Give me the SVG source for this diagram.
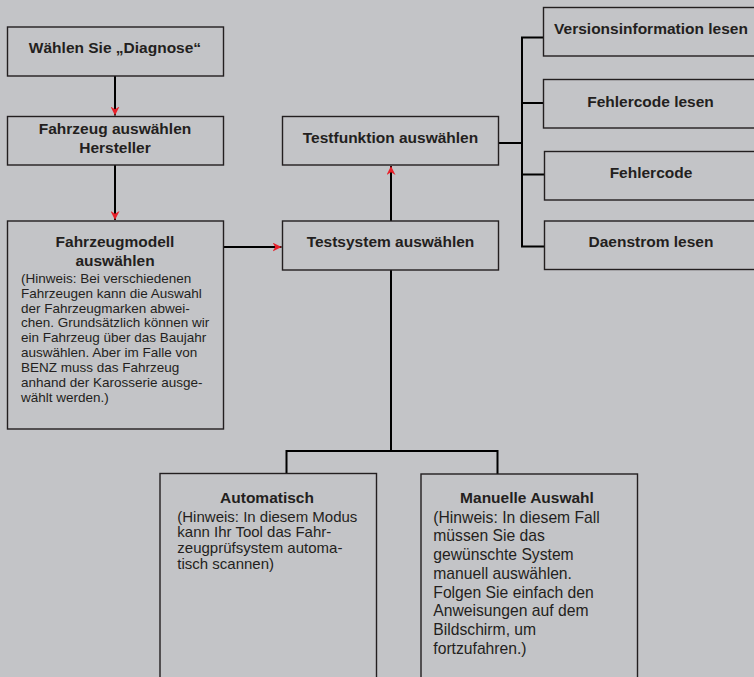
<svg xmlns="http://www.w3.org/2000/svg" width="754" height="677" viewBox="0 0 754 677">
<style>
.box{fill:#c3c4c7;stroke:#231f20;stroke-width:1.4}
.t{font-family:"Liberation Sans",Arial,sans-serif;font-weight:bold;font-size:15.5px;fill:#231f20;text-anchor:middle}
.n{font-family:"Liberation Sans",Arial,sans-serif;fill:#231f20}
.c{fill:none;stroke:#000;stroke-width:2}
</style>
<defs>
<marker id="ah" viewBox="0 0 10 10" refX="10" refY="5" markerWidth="9" markerHeight="9" markerUnits="userSpaceOnUse" orient="auto">
<path d="M0,0 L10,5 L0,10 L3,5 z" fill="#e8202a"/>
</marker>
</defs>
<rect width="754" height="677" fill="#c3c4c7"/>
<g id="connectors">
<path class="c" d="M115,76 V115.5" marker-end="url(#ah)"/>
<path class="c" d="M115,165 V220" marker-end="url(#ah)"/>
<path class="c" d="M224,247 H281.5" marker-end="url(#ah)"/>
<path class="c" d="M391,221 V166" marker-end="url(#ah)"/>
<path class="c" d="M391,270 V451 M286.5,473 V451 H497.5 V474"/>
<path class="c" d="M499,143 H522 M543.5,37.5 H522 V246.5 H544 M522,103 H543.5 M522,174.5 H544"/>
</g>
<g id="n1"><rect class="box" x="7.5" y="27" width="216" height="49"/><text class="t" x="115" y="52.5">Wählen Sie „Diagnose“</text></g>
<g id="n2"><rect class="box" x="7.5" y="116.5" width="216" height="48.5"/><text class="t" x="115" y="133.5">Fahrzeug auswählen</text><text class="t" x="115" y="152.7">Hersteller</text></g>
<g id="n3"><rect class="box" x="7.5" y="221" width="216" height="208"/>
<text class="t" x="115" y="247">Fahrzeugmodell</text><text class="t" x="115" y="266">auswählen</text>
<text class="n" font-size="13.5" x="21" y="282.7">(Hinweis: Bei verschiedenen</text>
<text class="n" font-size="13.5" x="21" y="297.6">Fahrzeugen kann die Auswahl</text>
<text class="n" font-size="13.5" x="21" y="312.5">der Fahrzeugmarken abwei-</text>
<text class="n" font-size="13.5" x="21" y="327.4">chen. Grundsätzlich können wir</text>
<text class="n" font-size="13.5" x="21" y="342.3">ein Fahrzeug über das Baujahr</text>
<text class="n" font-size="13.5" x="21" y="357.2">auswählen. Aber im Falle von</text>
<text class="n" font-size="13.5" x="21" y="372.1">BENZ muss das Fahrzeug</text>
<text class="n" font-size="13.5" x="21" y="387">anhand der Karosserie ausge-</text>
<text class="n" font-size="13.5" x="21" y="401.9">wählt werden.)</text>
</g>
<g id="n4"><rect class="box" x="282.5" y="116.5" width="216" height="48.5"/><text class="t" x="390.5" y="143.3">Testfunktion auswählen</text></g>
<g id="n5"><rect class="box" x="282.5" y="221" width="216" height="49"/><text class="t" x="390.5" y="246.7">Testsystem auswählen</text></g>
<g id="n6"><rect class="box" x="543.5" y="7.5" width="220" height="48.5"/><text class="t" x="651" y="34.3">Versionsinformation lesen</text></g>
<g id="n7"><rect class="box" x="543.5" y="79.5" width="220" height="48.5"/><text class="t" x="650.5" y="106.7">Fehlercode lesen</text></g>
<g id="n8"><rect class="box" x="544.5" y="151.5" width="220" height="48.5"/><text class="t" x="651" y="178.3">Fehlercode</text></g>
<g id="n9"><rect class="box" x="544.5" y="221" width="220" height="48.5"/><text class="t" x="651" y="247.3">Daenstrom lesen</text></g>
<g id="n10"><rect class="box" x="160" y="473.5" width="216.5" height="220"/>
<text class="t" x="267" y="502.7">Automatisch</text>
<text class="n" font-size="15" x="177.3" y="521.7">(Hinweis: In diesem Modus</text>
<text class="n" font-size="15" x="177.3" y="537.3">kann Ihr Tool das Fahr-</text>
<text class="n" font-size="15" x="177.3" y="552.9">zeugprüfsystem automa-</text>
<text class="n" font-size="15" x="177.3" y="568.5">tisch scannen)</text>
</g>
<g id="n11"><rect class="box" x="421" y="474" width="216.5" height="220"/>
<text class="t" x="527" y="503.3">Manuelle Auswahl</text>
<text class="n" font-size="15.7" x="433.3" y="522.7">(Hinweis: In diesem Fall</text>
<text class="n" font-size="15.7" x="433.3" y="541.4">müssen Sie das</text>
<text class="n" font-size="15.7" x="433.3" y="560.1">gewünschte System</text>
<text class="n" font-size="15.7" x="433.3" y="578.8">manuell auswählen.</text>
<text class="n" font-size="15.7" x="433.3" y="597.5">Folgen Sie einfach den</text>
<text class="n" font-size="15.7" x="433.3" y="616.2">Anweisungen auf dem</text>
<text class="n" font-size="15.7" x="433.3" y="634.9">Bildschirm, um</text>
<text class="n" font-size="15.7" x="433.3" y="653.6">fortzufahren.)</text>
</g>
</svg>
